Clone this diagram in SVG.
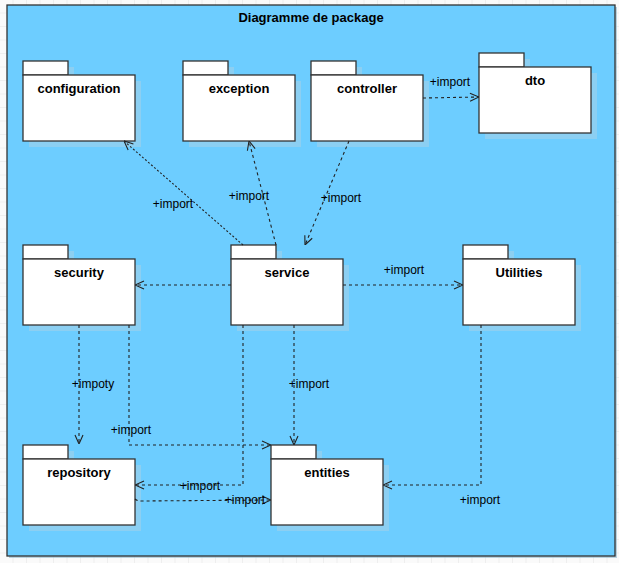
<svg xmlns="http://www.w3.org/2000/svg" width="619" height="563" viewBox="0 0 619 563">
<style>
.tab,.body{fill:#ffffff;stroke:#333333;stroke-width:1.3}
.sh{fill:#8ccff2}
.lbl{font-family:"Liberation Sans",Arial,sans-serif;font-size:13px;font-weight:bold;fill:#000;text-anchor:middle}
.cl{font-family:"Liberation Sans",Arial,sans-serif;font-size:12px;fill:#000;text-anchor:middle}
.c{fill:none;stroke:#222;stroke-width:1.1;stroke-dasharray:3,3}
.ah{fill:none;stroke:#222;stroke-width:1.1}
</style>
<defs>
<pattern id="grid" width="13.5" height="13.5" patternUnits="userSpaceOnUse">
<rect width="13.5" height="13.5" fill="#fafafa"/>
<path d="M13.5 0V13.5H0" fill="none" stroke="#e4e4e4" stroke-width="1"/>
</pattern>
<marker id="arr" viewBox="0 0 10 10" refX="10" refY="5" markerWidth="10" markerHeight="10" orient="auto" markerUnits="userSpaceOnUse">
<path d="M1 1L10 5L1 9" class="ah"/>
</marker>
</defs>
<rect width="619" height="563" fill="url(#grid)"/>
<rect x="9" y="7" width="608" height="551" fill="#8fb8cc" opacity="0.6"/>
<rect x="7" y="5" width="608" height="551" fill="#6dcdff" stroke="#333" stroke-width="1.3"/>
<text x="311" y="22" class="lbl">Diagramme de package</text>

<g id="configuration">
<rect x="29" y="67" width="45" height="14" class="sh"/><rect x="29" y="81" width="112" height="66" class="sh"/>
<rect x="23" y="61" width="45" height="14" class="tab"/><rect x="23" y="75" width="112" height="66" class="body"/>
<text x="79" y="93" class="lbl">configuration</text>
</g>
<g id="exception">
<rect x="189" y="67" width="45" height="14" class="sh"/><rect x="189" y="81" width="112" height="66" class="sh"/>
<rect x="183" y="61" width="45" height="14" class="tab"/><rect x="183" y="75" width="112" height="66" class="body"/>
<text x="239" y="93" class="lbl">exception</text>
</g>
<g id="controller">
<rect x="317" y="67" width="45" height="14" class="sh"/><rect x="317" y="81" width="112" height="66" class="sh"/>
<rect x="311" y="61" width="45" height="14" class="tab"/><rect x="311" y="75" width="112" height="66" class="body"/>
<text x="367" y="93" class="lbl">controller</text>
</g>
<g id="dto">
<rect x="485" y="59" width="45" height="14" class="sh"/><rect x="485" y="73" width="112" height="66" class="sh"/>
<rect x="479" y="53" width="45" height="14" class="tab"/><rect x="479" y="67" width="112" height="66" class="body"/>
<text x="535" y="85" class="lbl">dto</text>
</g>
<g id="security">
<rect x="29" y="251" width="45" height="14" class="sh"/><rect x="29" y="265" width="112" height="66" class="sh"/>
<rect x="23" y="245" width="45" height="14" class="tab"/><rect x="23" y="259" width="112" height="66" class="body"/>
<text x="79" y="277" class="lbl">security</text>
</g>
<g id="service">
<rect x="237" y="251" width="45" height="14" class="sh"/><rect x="237" y="265" width="112" height="66" class="sh"/>
<rect x="231" y="245" width="45" height="14" class="tab"/><rect x="231" y="259" width="112" height="66" class="body"/>
<text x="287" y="277" class="lbl">service</text>
</g>
<g id="utilities">
<rect x="469" y="251" width="45" height="14" class="sh"/><rect x="469" y="265" width="112" height="66" class="sh"/>
<rect x="463" y="245" width="45" height="14" class="tab"/><rect x="463" y="259" width="112" height="66" class="body"/>
<text x="519" y="277" class="lbl">Utilities</text>
</g>
<g id="repository">
<rect x="29" y="451" width="45" height="14" class="sh"/><rect x="29" y="465" width="112" height="66" class="sh"/>
<rect x="23" y="445" width="45" height="14" class="tab"/><rect x="23" y="459" width="112" height="66" class="body"/>
<text x="79" y="477" class="lbl">repository</text>
</g>
<g id="entities">
<rect x="277" y="451" width="45" height="14" class="sh"/><rect x="277" y="465" width="112" height="66" class="sh"/>
<rect x="271" y="445" width="45" height="14" class="tab"/><rect x="271" y="459" width="112" height="66" class="body"/>
<text x="327" y="477" class="lbl">entities</text>
</g>

<g id="connectors">
<path d="M243 245L124 141" class="c" style="stroke-dasharray:2,2" marker-end="url(#arr)"/>
<path d="M276 245L249 141" class="c" marker-end="url(#arr)"/>
<path d="M349 141L305 245" class="c" marker-end="url(#arr)"/>
<path d="M423 98L479 97" class="c" marker-end="url(#arr)"/>
<path d="M231 285L135 285" class="c" marker-end="url(#arr)"/>
<path d="M343 285L463 285" class="c" marker-end="url(#arr)"/>
<path d="M79 325L79 444" class="c" marker-end="url(#arr)"/>
<path d="M129 325L129 445L271 445" class="c" marker-end="url(#arr)"/>
<path d="M243 325L243 485L135 485" class="c" marker-end="url(#arr)"/>
<path d="M294 325L294 445" class="c" marker-end="url(#arr)"/>
<path d="M481 325L481 485L383 485" class="c" marker-end="url(#arr)"/>
<path d="M135 499Q137 501 142 501L271 500" class="c" marker-end="url(#arr)"/>
<text x="173" y="208" class="cl">+import</text>
<text x="249" y="200" class="cl">+import</text>
<text x="341" y="202" class="cl">+import</text>
<text x="450" y="86" class="cl">+import</text>
<text x="404" y="274" class="cl">+import</text>
<text x="93" y="388" class="cl">+impoty</text>
<text x="131" y="434" class="cl">+import</text>
<text x="200" y="490" class="cl">+import</text>
<text x="309" y="388" class="cl">+import</text>
<text x="480" y="504" class="cl">+import</text>
<text x="245" y="504" class="cl">+import</text>
</g>
</svg>
